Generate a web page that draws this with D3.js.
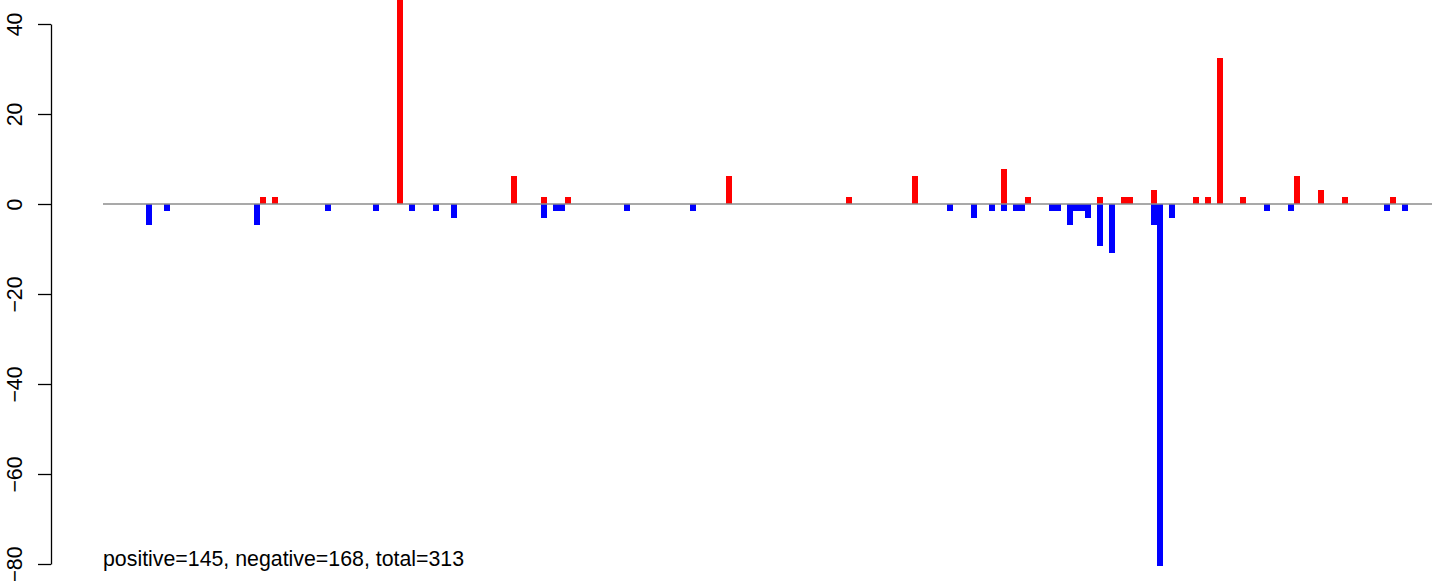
<!DOCTYPE html>
<html>
<head>
<meta charset="utf-8">
<script src="https://cdn.jsdelivr.net/npm/d3@7"></script>
<style>
  html, body { margin: 0; padding: 0; background: #ffffff; }
  svg { display: block; }
  text { font-family: "Liberation Sans", Arial, Helvetica, sans-serif; }
</style>
</head>
<body>
<svg id="chart" width="1444" height="581"></svg>
<script>
// ---- data (slot index -> value) ----
const posIndex  = [19, 21, 42, 61, 66, 70, 97, 117, 128, 143, 147, 159, 163, 164, 168, 175, 177, 179, 183, 192, 196, 200, 208];
const posValues = [1.56, 1.56, 50, 6.25, 1.56, 1.56, 6.25, 1.56, 6.25, 7.81, 1.56, 1.56, 1.56, 1.56, 3.13, 1.56, 1.56, 32.5, 1.56, 6.25, 3.13, 1.56, 1.56];

const negIndex  = [0, 3, 18, 30, 38, 44, 48, 51, 66, 68, 69, 80, 91, 134, 138, 141, 143, 145, 146, 151, 152, 154, 155, 156, 157, 159, 161, 168, 169, 171, 187, 191, 207, 210];
const negValues = [-4.69, -1.56, -4.69, -1.56, -1.56, -1.56, -1.56, -3.13, -3.13, -1.56, -1.56, -1.56, -1.56, -1.56, -3.13, -1.56, -1.56, -1.56, -1.56, -1.56, -1.56, -4.69, -1.56, -1.56, -3.13, -9.38, -10.94, -4.69, -80.4, -3.13, -1.56, -1.56, -1.56, -1.56];

const yTicks = [-80, -60, -40, -20, 0, 20, 40];
const summaryText = "positive=145, negative=168, total=313";

// ---- layout ----
const svg = d3.select("#chart");
const plotLeft = 103, plotRight = 1432;
const axisX = 51;

const x = d3.scaleLinear().domain([-7.19, 215.02]).range([plotLeft, plotRight]);
const y = d3.scaleLinear().domain([-80, 40]).range([564, 24]);

const pos = posIndex.map((d, i) => ({ i: d, v: posValues[i] }));
const neg = negIndex.map((d, i) => ({ i: d, v: negValues[i] }));

// bars
const gBars = svg.append("g").attr("shape-rendering", "crispEdges");
gBars.selectAll("rect.neg").data(neg).join("rect")
  .attr("class", "neg")
  .attr("x", d => Math.round(x(d.i)))
  .attr("width", d => Math.round(x(d.i + 1)) - Math.round(x(d.i)))
  .attr("y", y(0))
  .attr("height", d => y(d.v) - y(0))
  .attr("fill", "#0000ff");
gBars.selectAll("rect.pos").data(pos).join("rect")
  .attr("class", "pos")
  .attr("x", d => Math.round(x(d.i)))
  .attr("width", d => Math.round(x(d.i + 1)) - Math.round(x(d.i)))
  .attr("y", d => y(d.v))
  .attr("height", d => y(0) - y(d.v))
  .attr("fill", "#ff0000");

// zero line
svg.append("line")
  .attr("x1", plotLeft).attr("x2", plotRight)
  .attr("y1", y(0)).attr("y2", y(0))
  .attr("stroke", "#8c8c8c").attr("stroke-width", 1.3);

// y axis
const axis = d3.axisLeft(y)
  .tickValues(yTicks)
  .tickSize(13)
  .tickSizeOuter(0)
  .tickFormat(d3.format("d"));
const gAxis = svg.append("g").attr("transform", `translate(${axisX},0)`).call(axis);
gAxis.select(".domain").attr("stroke", "#000").attr("stroke-width", 1.3);
gAxis.selectAll(".tick line").attr("stroke", "#000").attr("stroke-width", 1.3);
gAxis.selectAll(".tick text")
  .attr("x", null).attr("dy", null)
  .attr("transform", "translate(-29,0) rotate(-90)")
  .attr("text-anchor", "middle")
  .attr("fill", "#000")
  .style("font-size", "21.33px")
  .style("font-family", "'Liberation Sans', Arial, sans-serif");

// summary text
svg.append("text")
  .attr("x", plotLeft).attr("y", 566)
  .style("font-size", "21.33px")
  .attr("fill", "#000")
  .text(summaryText);
</script>
</body>
</html>
